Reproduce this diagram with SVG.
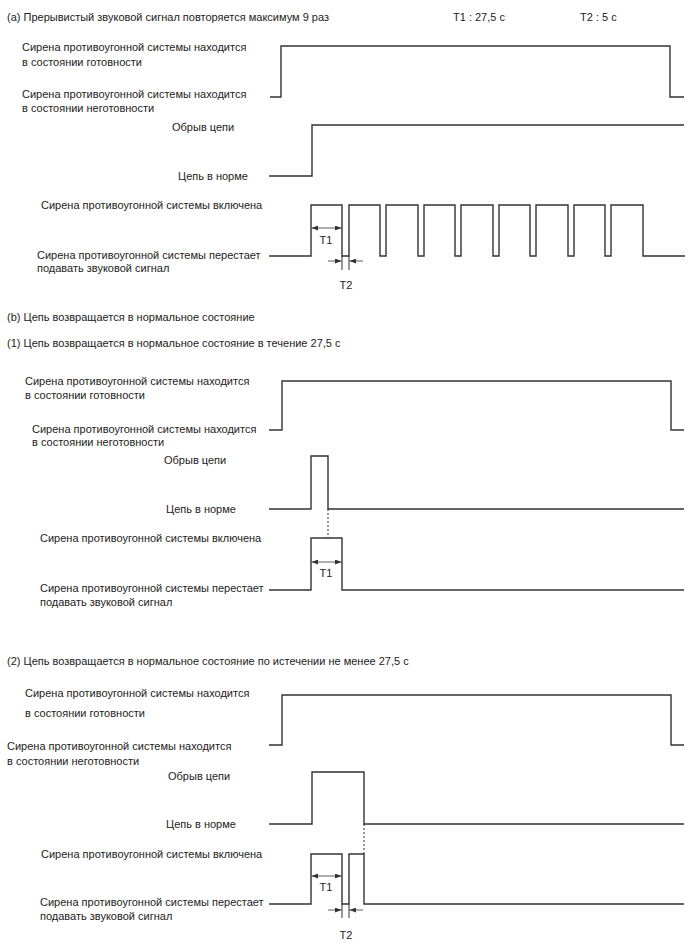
<svg xmlns="http://www.w3.org/2000/svg" width="688" height="949" viewBox="0 0 688 949">
<style>
  text { font-family: "Liberation Sans", Arial, sans-serif; font-size: 11px; fill: #222; }
  .c { text-anchor: middle; }
  .w { fill: none; stroke: #333; stroke-width: 1.4; stroke-linejoin: miter; }
  .t { fill: none; stroke: #333; stroke-width: 1; }
  .d { fill: none; stroke: #333; stroke-width: 1; stroke-dasharray: 2 2; }
  .a { fill: none; stroke: #333; stroke-width: 0.8; marker-end: url(#ah); }
  .a2 { fill: none; stroke: #333; stroke-width: 0.8; marker-start: url(#ah); marker-end: url(#ah); }
</style>
<defs>
  <marker id="ah" viewBox="0 0 8 6" refX="8" refY="3" markerWidth="7" markerHeight="5" orient="auto-start-reverse" markerUnits="userSpaceOnUse">
    <path d="M0,0 L8,3 L0,6 z" fill="#333"/>
  </marker>
</defs>

<!-- Section (a) -->
<g id="heading-a">
  <text x="7" y="21">(a) Прерывистый звуковой сигнал повторяется максимум 9 раз</text>
  <text x="453" y="21">T1 : 27,5 с</text>
  <text x="580" y="21">T2 : 5 с</text>
</g>
<g id="a-siren-state">
  <text x="22" y="51">Сирена противоугонной системы находится</text>
  <text x="22" y="66">в состоянии готовности</text>
  <text x="22" y="98">Сирена противоугонной системы находится</text>
  <text x="22" y="112">в состоянии неготовности</text>
  <path class="w" d="M270,97 H281 V46 H670 V97 H684"/>
</g>
<g id="a-circuit">
  <text x="172" y="131">Обрыв цепи</text>
  <text x="178" y="180">Цепь в норме</text>
  <path class="w" d="M269,176 H312 V125 H684"/>
</g>
<g id="a-siren-output">
  <text x="41" y="209">Сирена противоугонной системы включена</text>
  <text x="37" y="259">Сирена противоугонной системы перестает</text>
  <text x="37" y="272">подавать звуковой сигнал</text>
  <path class="w" d="M269,256 H311 V205 H342 V256 H349 V205 H380 V256 H386 V205 H418 V256 H424 V205 H455 V256 H461 V205 H493 V256 H499 V205 H530 V256 H536 V205 H568 V256 H574 V205 H605 V256 H611 V205 H643 V256 H685"/>
  <text class="c" x="326" y="244">T1</text>
  <text class="c" x="346" y="289">T2</text>
</g>

<!-- Section (b)(1) -->
<g id="heading-b">
  <text x="7" y="321">(b) Цепь возвращается в нормальное состояние</text>
  <text x="7" y="347">(1) Цепь возвращается в нормальное состояние в течение 27,5 с</text>
</g>
<g id="b1-siren-state">
  <text x="25" y="385">Сирена противоугонной системы находится</text>
  <text x="25" y="399">в состоянии готовности</text>
  <text x="32" y="433">Сирена противоугонной системы находится</text>
  <text x="32" y="446">в состоянии неготовности</text>
  <path class="w" d="M269,430 H282 V381 H671 V430 H684"/>
</g>
<g id="b1-circuit">
  <text x="164" y="464">Обрыв цепи</text>
  <text x="166" y="513">Цепь в норме</text>
  <path class="w" d="M269,509 H311 V456 H328 V509 H684"/>
</g>
<g id="b1-siren-output">
  <text x="40" y="542">Сирена противоугонной системы включена</text>
  <text x="40" y="592">Сирена противоугонной системы перестает</text>
  <text x="40" y="606">подавать звуковой сигнал</text>
  <path class="w" d="M269,590 H311 V538 H342 V590 H684"/>
  <text class="c" x="326" y="577">T1</text>
</g>

<!-- Section (b)(2) -->
<g id="heading-b2">
  <text x="7" y="665">(2) Цепь возвращается в нормальное состояние по истечении не менее 27,5 с</text>
</g>
<g id="b2-siren-state">
  <text x="25" y="697">Сирена противоугонной системы находится</text>
  <text x="25" y="717">в состоянии готовности</text>
  <text x="7" y="750">Сирена противоугонной системы находится</text>
  <text x="7" y="765">в состоянии неготовности</text>
  <path class="w" d="M269,745 H282 V695 H671 V745 H684"/>
</g>
<g id="b2-circuit">
  <text x="168" y="780">Обрыв цепи</text>
  <text x="166" y="828">Цепь в норме</text>
  <path class="w" d="M269,824 H312 V772 H364 V824 H684"/>
</g>
<g id="b2-siren-output">
  <text x="41" y="858">Сирена противоугонной системы включена</text>
  <text x="40" y="906">Сирена противоугонной системы перестает</text>
  <text x="40" y="920">подавать звуковой сигнал</text>
  <path class="w" d="M269,904 H311 V854 H342 V904 H349 V854 H364 V904 H684"/>
  <text class="c" x="326" y="891">T1</text>
  <text class="c" x="346" y="939">T2</text>
</g>

<g id="connectors">
  <!-- (a) -->
  <line class="a2" x1="311.5" y1="228" x2="341.5" y2="228"/>
  <line class="t" x1="342" y1="256" x2="342" y2="270"/>
  <line class="t" x1="349" y1="256" x2="349" y2="270"/>
  <line class="a" x1="328" y1="261" x2="341.5" y2="261"/>
  <line class="a" x1="363" y1="261" x2="349.5" y2="261"/>
  <!-- (b)(1) -->
  <line class="d" x1="328" y1="509" x2="328" y2="538"/>
  <line class="a2" x1="311.5" y1="562" x2="341.5" y2="562"/>
  <!-- (b)(2) -->
  <line class="d" x1="364" y1="824" x2="364" y2="854"/>
  <line class="a2" x1="311.5" y1="876" x2="341.5" y2="876"/>
  <line class="t" x1="342" y1="904" x2="342" y2="918"/>
  <line class="t" x1="349" y1="904" x2="349" y2="918"/>
  <line class="a" x1="328" y1="910" x2="341.5" y2="910"/>
  <line class="a" x1="363" y1="910" x2="349.5" y2="910"/>
</g>
</svg>
